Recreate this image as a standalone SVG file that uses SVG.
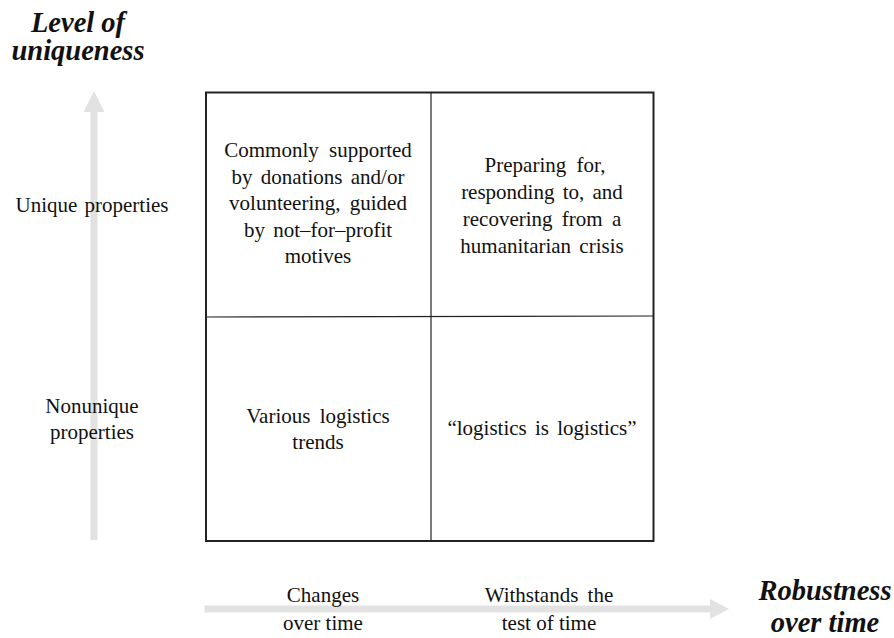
<svg xmlns="http://www.w3.org/2000/svg" width="894" height="638" viewBox="0 0 894 638">
<style>
.t{font-family:"Liberation Serif","Times New Roman",serif;font-size:21px;fill:#111;text-anchor:middle}
.h{font-family:"Liberation Serif","Times New Roman",serif;font-size:28.5px;font-weight:bold;font-style:italic;fill:#111;text-anchor:middle}
.ax{fill:#e2e2e2}
</style>
<rect width="894" height="638" fill="#fff"/>
<g id="connectors">
<polygon class="ax" points="90.5,540 90.5,112 83.5,112 94,91 104.5,112 97.5,112 97.5,540"/>
<polygon class="ax" points="204.5,605.5 710,605.5 710,599 729,609 710,619 710,612.5 204.5,612.5"/>
</g>
<g id="grid">
<line x1="431" y1="92" x2="431" y2="541" stroke="#222" stroke-width="1.2"/>
<line x1="206" y1="317" x2="653" y2="316" stroke="#222" stroke-width="1.2"/>
<rect x="206" y="92.5" width="447.5" height="448.5" fill="none" stroke="#222" stroke-width="2"/>
</g>
<g id="title-y"><text class="h" x="78" y="32">Level of</text><text class="h" x="78" y="60">uniqueness</text></g>
<g id="title-x"><text class="h" x="825" y="600">Robustness</text><text class="h" x="825" y="632">over time</text></g>
<g id="label-unique"><text class="t" x="92" y="212" word-spacing="2">Unique properties</text></g>
<g id="label-nonunique"><text class="t" x="92" y="413">Nonunique</text><text class="t" x="92" y="439">properties</text></g>
<g id="label-changes"><text class="t" x="323" y="602">Changes</text><text class="t" x="323" y="630">over time</text></g>
<g id="label-withstands"><text class="t" x="549" y="602" word-spacing="4">Withstands the</text><text class="t" x="549" y="630">test of time</text></g>
<g id="cell-tl">
<text class="t" x="318" y="157" word-spacing="5">Commonly supported</text>
<text class="t" x="318" y="184" word-spacing="3">by donations and/or</text>
<text class="t" x="318" y="210" word-spacing="4">volunteering, guided</text>
<text class="t" x="318" y="237" word-spacing="3">by not–for–profit</text>
<text class="t" x="318" y="263">motives</text>
</g>
<g id="cell-tr">
<text class="t" x="545" y="172" word-spacing="5">Preparing for,</text>
<text class="t" x="542" y="199" word-spacing="3">responding to, and</text>
<text class="t" x="542" y="226" word-spacing="4">recovering from a</text>
<text class="t" x="542" y="253" word-spacing="3">humanitarian crisis</text>
</g>
<g id="cell-bl">
<text class="t" x="318" y="423" word-spacing="4">Various logistics</text>
<text class="t" x="318" y="449">trends</text>
</g>
<g id="cell-br">
<text class="t" x="542" y="435" word-spacing="3">“logistics is logistics”</text>
</g>
</svg>
